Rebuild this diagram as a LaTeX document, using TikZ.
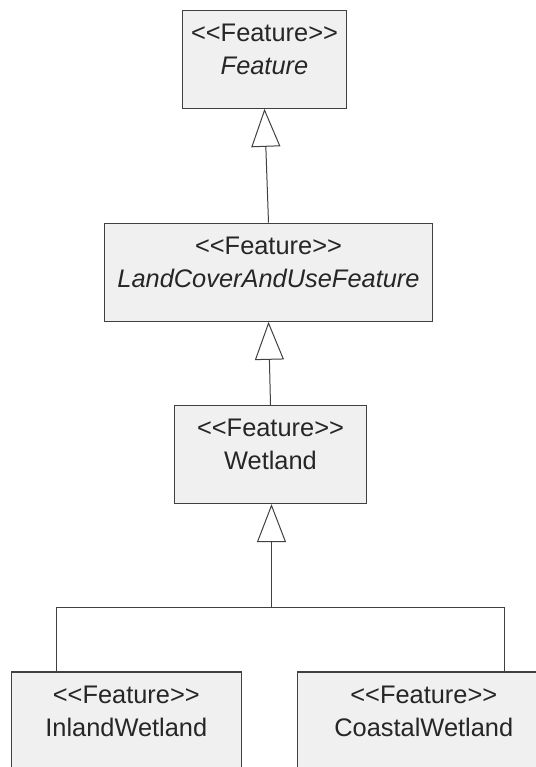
\documentclass[tikz,border=0pt]{standalone}
\usepackage{fontspec}
\setmainfont{Liberation Sans}
\usetikzlibrary{arrows.meta,positioning}
\definecolor{boxfill}{HTML}{F0F0F0}
\definecolor{edgegray}{HTML}{404040}
% keep << and >> as two signs each
\newcommand\stereo[1]{<\kern0pt<#1>\kern0pt>}

\begin{document}
\begin{tikzpicture}[x=0.5pt, y=-0.5pt,
  cls/.style={rectangle, draw=edgegray, fill=boxfill, line width=0.6pt, minimum height=49pt, inner sep=0pt},
  lbl/.style={anchor=north, inner sep=0pt, yshift=-7pt, align=center, text=black!85, font=\fontsize{12.7}{16.5}\selectfont},
  gen/.style={draw=edgegray, line width=0.5pt, -{Triangle[open, length=19pt, width=14.5pt]}},
  link/.style={draw=edgegray, line width=0.5pt}]
  \useasboundingbox (0,0) rectangle (536,767);
  \node[cls, minimum width=82.2pt, label={[lbl, name=featT]north:{\stereo{Feature}\\\textit{Feature}}}] (feat) at (264.5,59.2) {};
  \node[cls, minimum width=164.2pt, label={[lbl, name=landT]north:{\stereo{Feature}\\\textit{LandCoverAndUseFeature}}}] (land) at (268.5,272.2) {};
  \node[cls, minimum width=96.2pt, label={[lbl, name=wetT]north:{\stereo{Feature}\\Wetland}}] (wet) at (270.5,454.5) {};
  \node[cls, minimum width=115pt, label={[lbl, name=inlandT]north:{\stereo{Feature}\\InlandWetland}}] (inland) at (126.3,721) {};
  \node[cls, minimum width=126.3pt, label={[lbl, name=coastT]north:{\stereo{Feature}\\CoastalWetland}}] (coast) at (423.8,721) {};
  \coordinate (joint) at (271.5,607);
  % generalisation arrows
  \draw[gen] (land.north) -- (feat.south);
  \draw[gen] (wet.north) -- (land.south);
  \draw[gen] (joint) -- (joint |- wet.south);
  \draw[link] (joint) -| ([xshift=23pt]inland.north west);
  \draw[link] (joint) -| ([xshift=103.75pt]coast.north west);
\end{tikzpicture}
\end{document}
